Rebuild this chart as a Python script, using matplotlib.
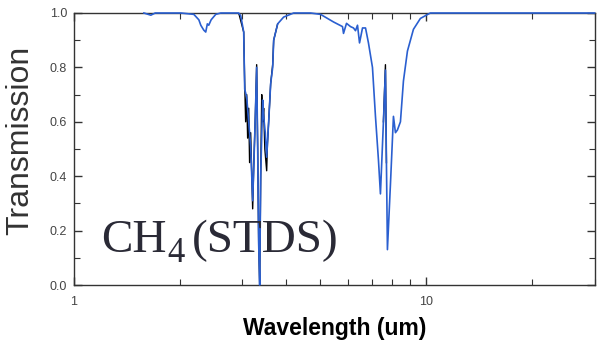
import numpy as np
import matplotlib
matplotlib.use("Agg")
import matplotlib.pyplot as plt
from matplotlib.ticker import FixedLocator, NullFormatter, MultipleLocator

# Smoothed (blue) transmission spectrum
wl_blue = [1.579, 1.652, 1.70, 2.010, 2.188, 2.261, 2.290, 2.335, 2.365, 2.390, 2.412, 2.450,
           2.525, 2.609, 2.934, 2.973, 3.031, 3.051, 3.091, 3.132, 3.172, 3.214, 3.235,
           3.270, 3.299, 3.321, 3.343, 3.365, 3.387, 3.431, 3.453, 3.490, 3.522, 3.568,
           3.615, 3.663, 3.687, 3.784, 3.935, 4.201, 4.693, 5.008, 5.452, 5.781, 5.819,
           5.934, 6.091, 6.211, 6.293, 6.376, 6.461, 6.588, 6.719, 6.849, 7.031, 7.170,
           7.311, 7.407, 7.553, 7.653, 7.703, 7.753, 7.907, 8.064, 8.170, 8.277, 8.441,
           8.608, 8.836, 9.189, 9.617, 10.26, 11.69, 20.0, 30.0]
tr_blue = [1.000, 0.992, 1.000, 1.000, 0.995, 0.975, 0.955, 0.937, 0.930, 0.960, 0.955, 0.975,
           0.995, 1.000, 1.000, 0.990, 0.930, 0.720, 0.690, 0.600, 0.510, 0.310, 0.420,
           0.620, 0.800, 0.500, 0.150, 0.000, 0.400, 0.680, 0.620, 0.560, 0.470, 0.600,
           0.740, 0.800, 0.900, 0.960, 0.985, 1.000, 1.000, 0.995, 0.967, 0.950, 0.925,
           0.962, 0.950, 0.945, 0.935, 0.955, 0.890, 0.945, 0.945, 0.890, 0.800, 0.620,
           0.460, 0.335, 0.600, 0.790, 0.450, 0.130, 0.370, 0.620, 0.560, 0.570, 0.600,
           0.750, 0.860, 0.940, 0.980, 1.000, 1.000, 1.000, 1.000]

# Higher-resolution (black) spectrum, visible in the noisy parts
wl_black_a = [2.934, 3.031, 3.051, 3.070, 3.091, 3.110, 3.132, 3.150, 3.172, 3.214,
              3.235, 3.270, 3.299, 3.321, 3.343, 3.365, 3.387, 3.410, 3.431, 3.453, 3.480,
              3.522, 3.540, 3.568, 3.615, 3.663, 3.687, 3.784]
tr_black_a = [1.000, 0.930, 0.740, 0.600, 0.700, 0.540, 0.650, 0.450, 0.560, 0.280,
              0.430, 0.620, 0.810, 0.500, 0.150, 0.000, 0.400, 0.700, 0.600, 0.650, 0.500,
              0.420, 0.520, 0.600, 0.740, 0.810, 0.900, 0.960]
wl_black_b = [7.553, 7.653, 7.703]
tr_black_b = [0.600, 0.810, 0.450]

x_major = [1, 10]
x_minor = [2, 3, 4, 5, 6, 7, 8, 9, 20, 30]

fig = plt.figure(figsize=(5.97, 3.42), dpi=100)
ax = fig.add_axes([74 / 597, 1 - 285 / 342, (594.5 - 74) / 597, (285 - 13) / 342])

ax.plot(wl_black_a, tr_black_a, color="black", lw=1.0, zorder=3)
ax.plot(wl_black_b, tr_black_b, color="black", lw=1.0, zorder=3)
ax.plot(wl_blue, tr_blue, color="#2a5fd0", lw=1.2, zorder=4, clip_on=False)

ax.set_xscale("log")
ax.set_xlim(1, 30)
ax.set_ylim(0, 1.0)
ax.xaxis.set_major_locator(FixedLocator(x_major))
ax.xaxis.set_minor_locator(FixedLocator(x_minor))
ax.xaxis.set_minor_formatter(NullFormatter())
ax.set_xticklabels(["1", "10"])
ax.yaxis.set_major_locator(MultipleLocator(0.2))
ax.yaxis.set_minor_locator(MultipleLocator(0.1))
ax.yaxis.set_major_formatter(plt.FuncFormatter(lambda v, p: f"{v:.1f}"))

for s in ax.spines.values():
    s.set_color("#333333")
    s.set_linewidth(1.0)
    s.set_zorder(2)
ax.tick_params(which="both", direction="in", top=True, right=True, colors="#333333",
               labelcolor="#444444", labelsize=9, labelfontfamily="Liberation Sans")
ax.tick_params(which="major", length=6, width=1.0)
ax.tick_params(which="minor", length=4, width=0.8)
ax.tick_params(axis="x", which="both", pad=8)
ax.tick_params(axis="y", which="both", pad=5)

fig.text(20 / 597, 1 - 140 / 342, "Transmission", rotation=90, ha="center", va="center",
         fontsize=23, color="#333333", family="Liberation Sans")
fig.text(334.5 / 597, 1 - 328 / 342, "Wavelength (um)", ha="center", va="center",
         fontsize=16.5, fontweight="bold", color="black", family="Liberation Sans")

tc = "#2a2a36"
fig.text(101 / 597, 1 - 252 / 342, "CH", ha="left", va="baseline",
         fontsize=34, color=tc, family="Liberation Serif", zorder=1)
fig.text(167 / 597, 1 - 262 / 342, "4", ha="left", va="baseline",
         fontsize=25, color=tc, family="Liberation Serif", zorder=1)
fig.text(192 / 597, 1 - 252 / 342, "(STDS)", ha="left", va="baseline",
         fontsize=34, color=tc, family="Liberation Serif", zorder=1)

fig.savefig("out.png", dpi=100)
